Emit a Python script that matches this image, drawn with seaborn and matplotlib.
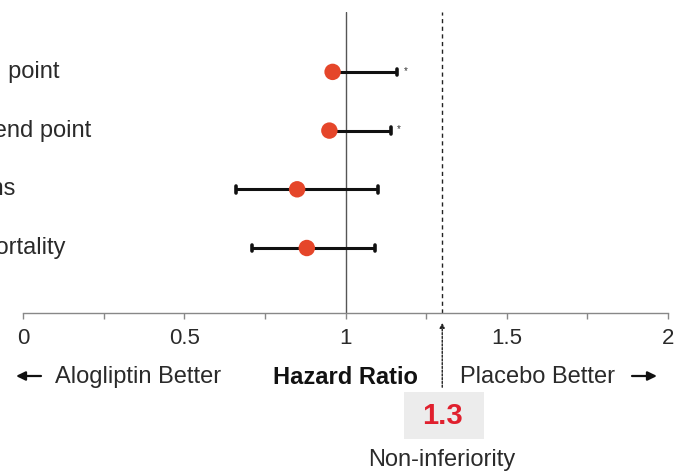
import matplotlib
matplotlib.use("Agg")
import matplotlib.pyplot as plt
from matplotlib.patches import Rectangle
import seaborn as sns
import pandas as pd

# Outcomes, hazard ratios and confidence limits
outcomes = ["Primary end point", "Secondary end point", "CV deaths", "All-cause mortality"]
hazard_ratio = [0.96, 0.95, 0.85, 0.88]
ci_lower = [0.96, 0.95, 0.66, 0.71]
ci_upper = [1.16, 1.14, 1.10, 1.09]
one_sided = [True, True, False, False]
row_pos = [4, 3, 2, 1]
x_ticks = [0, 0.5, 1, 1.5, 2]
x_tick_labels = ["0", "0.5", "1", "1.5", "2"]
minor_ticks = [0.25, 0.75, 1.25, 1.75]
margin = 1.3

df = pd.DataFrame({"outcome": outcomes, "hr": hazard_ratio, "lo": ci_lower,
                   "hi": ci_upper, "y": row_pos, "one_sided": one_sided})

sns.set_theme(style="white")
plt.rcParams["font.family"] = ["Liberation Sans", "DejaVu Sans"]

W, H = 676, 474
fig = plt.figure(figsize=(W / 100, H / 100), dpi=100)
fig.patch.set_facecolor("white")


def fx(px):
    return px / W


def fy(py):
    return 1 - py / H


TXT = "#2a2a2a"
FS = 17

ax = fig.add_axes([fx(23), fy(313), fx(668) - fx(23), fy(12) - fy(313)])
ax.set_xlim(0, 2)
ax.set_ylim(-0.107, 5.02)
ax.set_facecolor("white")

# reference lines: no effect and non-inferiority margin
ax.axvline(1, color="#555555", lw=1.0, zorder=1)
ax.axvline(margin, color="#222222", lw=1.0, ls=(0, (3, 2.5)), zorder=1)

# confidence intervals with small end caps
cap = 0.055
for r in df.itertuples():
    ax.plot([r.lo, r.hi], [r.y, r.y], color="#111111", lw=2.2, zorder=2,
            solid_capstyle="butt")
    ax.plot([r.hi, r.hi], [r.y - cap, r.y + cap], color="#111111", lw=2.6, zorder=2)
    if r.lo < r.hr:
        ax.plot([r.lo, r.lo], [r.y - cap, r.y + cap], color="#111111", lw=2.6, zorder=2)
    if r.one_sided:
        ax.text(r.hi + 0.02, r.y + 0.02, "*", fontsize=7, color="#333333",
                ha="left", va="center")

sns.scatterplot(data=df, x="hr", y="y", ax=ax, color="#E5462A", s=140,
                edgecolor="none", zorder=3, legend=False)

ax.set_xticks(x_ticks)
ax.set_xticklabels(x_tick_labels)
ax.set_xticks(minor_ticks, minor=True)
ax.set_yticks([])
ax.set_xlabel("")
ax.set_ylabel("")
for side in ["top", "left", "right"]:
    ax.spines[side].set_visible(False)
ax.spines["bottom"].set_color("#888888")
ax.spines["bottom"].set_linewidth(1.0)
ax.tick_params(axis="x", which="both", direction="out", length=4, width=1,
               color="#888888", bottom=True, labelsize=16, labelcolor=TXT, pad=7)

# row labels, left-aligned block that runs past the left edge of the figure
label_ends = [59, 91, 15, 66]
fig.canvas.draw()
for lab, yy, xe in zip(outcomes, row_pos, label_ends):
    _, ypix = ax.transData.transform((0, yy))
    fig.text(fx(xe), ypix / H, lab, ha="right", va="center", fontsize=FS, color=TXT)

# direction labels under the axis
arrow_kw = dict(arrowstyle="-|>,head_length=0.45,head_width=0.22", color="#111111",
                lw=1.6, shrinkA=0, shrinkB=0)
fig.add_artist(matplotlib.patches.FancyArrowPatch((fx(41), fy(376)), (fx(16), fy(376)),
                                                  transform=fig.transFigure,
                                                  mutation_scale=12, **arrow_kw))
fig.text(fx(55), fy(377), "Alogliptin Better", ha="left", va="center",
         fontsize=FS, color=TXT)
fig.text(fx(345), fy(377), "Hazard Ratio", ha="center", va="center",
         fontsize=FS, fontweight="bold", color="#111111")
fig.text(fx(460), fy(377), "Placebo Better", ha="left", va="center",
         fontsize=FS, color=TXT)
fig.add_artist(matplotlib.patches.FancyArrowPatch((fx(632), fy(376)), (fx(657), fy(376)),
                                                  transform=fig.transFigure,
                                                  mutation_scale=12, **arrow_kw))

# non-inferiority margin callout
mx = fx(23) + (fx(668) - fx(23)) * margin / 2
fig.add_artist(Rectangle((fx(404), fy(439)), fx(484) - fx(404), fy(392) - fy(439),
                         transform=fig.transFigure, facecolor="#ececec", edgecolor="none"))
fig.text(mx, fy(416), "1.3", ha="center", va="center", fontsize=21,
         fontweight="bold", color="#E0202E")
fig.text(mx, fy(460), "Non-inferiority", ha="center", va="center",
         fontsize=FS, color=TXT)
ax.annotate("", xy=(mx, fy(320)), xycoords="figure fraction",
            xytext=(mx, fy(390)), textcoords="figure fraction",
            arrowprops=dict(arrowstyle="-|>", color="#222222", lw=1.0,
                            linestyle=(0, (1.5, 1.2)), mutation_scale=7))

fig.savefig("out.png", dpi=100)
